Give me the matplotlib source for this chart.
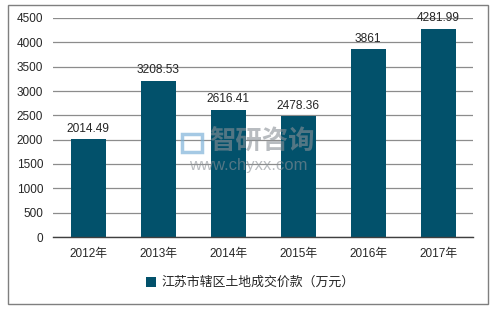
import matplotlib
matplotlib.use("Agg")
import matplotlib.pyplot as plt
from matplotlib.patches import Rectangle

plt.rcParams['font.family'] = ['Liberation Sans', 'Noto Sans CJK SC', 'DejaVu Sans']

categories = ['2012年', '2013年', '2014年', '2015年', '2016年', '2017年']
values = [2014.49, 3208.53, 2616.41, 2478.36, 3861, 4281.99]
value_labels = ['2014.49', '3208.53', '2616.41', '2478.36', '3861', '4281.99']
series_name = '江苏市辖区土地成交价款（万元）'
yticks = [0, 500, 1000, 1500, 2000, 2500, 3000, 3500, 4000, 4500]

W, H = 498, 309
fig = plt.figure(figsize=(W / 100, H / 100), dpi=100)
fig.patch.set_facecolor('white')

# outer border
fig.add_artist(Rectangle((8 / W, 1 - 304 / H), (488 - 8) / W, (304 - 5) / H,
                         transform=fig.transFigure, fill=False,
                         edgecolor='#7f7f7f', linewidth=1.0))

left, right, top, bottom = 53, 473, 18, 237
ax = fig.add_axes([left / W, 1 - bottom / H, (right - left) / W, (bottom - top) / H])

color = '#02516b'
x = range(len(categories))
bars = ax.bar(x, values, width=0.5, color=color, zorder=3, label=series_name)
for xi, v, lab in zip(x, values, value_labels):
    ax.text(xi, v + 90, lab, ha='center', va='bottom', fontsize=8.6, color='#262626', zorder=4)

ax.set_xlim(-0.5, len(categories) - 0.5)
ax.set_ylim(0, 4500)
ax.set_yticks(yticks)
ax.set_yticklabels([str(t) for t in yticks], fontsize=8.5, color='#262626')
ax.set_xticks(list(x))
ax.set_xticklabels(categories, fontsize=8.5, color='#262626')
ax.tick_params(axis='both', length=0, pad=7)
ax.tick_params(axis='x', pad=8)
ax.yaxis.grid(True, color='#8c8c8c', linewidth=0.9, zorder=0)
for s in ['top', 'right', 'left']:
    ax.spines[s].set_visible(False)
ax.spines['bottom'].set_color('#404040')
ax.spines['bottom'].set_linewidth(1.0)
ax.spines['bottom'].set_zorder(5)

# watermark
fig.text(262 / W, 1 - 142 / H, '智研咨询', fontsize=19, color='#8a9096', alpha=0.6,
         ha='center', va='center', fontweight='bold', zorder=10)
fig.text(248 / W, 1 - 166 / H, 'www.chyxx.com', fontsize=12, color='#8a9096', alpha=0.6,
         ha='center', va='center', zorder=10)
fig.add_artist(Rectangle((182 / W, 1 - 152 / H), 20 / W, 18 / H, transform=fig.transFigure,
                         fill=False, edgecolor='#7fb3d9', linewidth=2.5, alpha=0.7, zorder=10))

leg = fig.legend(handles=[bars], labels=[series_name], loc='center',
                 bbox_to_anchor=(250 / W, 1 - 283 / H), frameon=False,
                 fontsize=9.3, handlelength=0.8, handleheight=0.8, handletextpad=0.4)
for t in leg.get_texts():
    t.set_color('#262626')

fig.savefig('out.png', dpi=100, facecolor='white')
